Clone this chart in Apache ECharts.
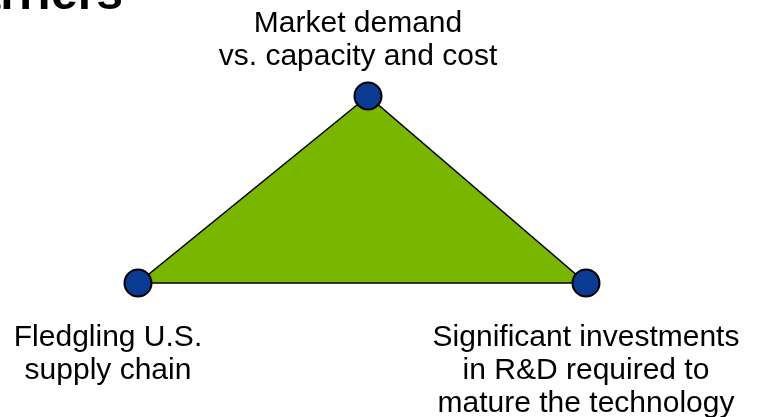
<!DOCTYPE html>
<html>
<head>
<meta charset="utf-8">
<script src="https://cdn.jsdelivr.net/npm/echarts@6/dist/echarts.min.js"></script>
<style>
  html, body { margin: 0; padding: 0; background: #fff; }
  #main { width: 759px; height: 417px; }
</style>
</head>
<body>
<div id="main"></div>
<script>
// barrier triangle: three nodes, positions on a 0..759 x 0..417 plane
var nodeNames = ['Market demand\nvs. capacity and cost', 'Fledgling U.S.\nsupply chain', 'Significant investments\nin R&D required to\nmature the technology'];
var nodeX = [368, 138, 586];
var nodeY = [96, 283, 283];
var titleText = 'Barriers';

var pts = nodeX.map(function (x, i) { return [x, nodeY[i]]; });

var chart = echarts.init(document.getElementById('main'));
var option = {
  animation: false,
  grid: { left: 0, right: 0, top: 0, bottom: 0 },
  xAxis: { type: 'value', min: 0, max: 759, show: false },
  yAxis: { type: 'value', min: 0, max: 417, inverse: true, show: false },
  graphic: [{
    type: 'text',
    x: 123,
    y: 20,
    z: 10,
    style: {
      text: titleText,
      font: 'bold 48px "Liberation Sans", Arial, sans-serif',
      fill: '#000',
      align: 'right',
      verticalAlign: 'bottom'
    }
  }],
  series: [
    {
      // the filled triangle
      type: 'custom',
      data: pts,
      renderItem: function (params, api) {
        if (params.dataIndex !== 0) return;
        var poly = pts.map(function (p) { return api.coord(p); });
        return {
          type: 'polygon',
          shape: { points: poly },
          style: { fill: '#78b600', stroke: '#000', lineWidth: 1.5 }
        };
      },
      z: 1
    },
    {
      type: 'scatter',
      symbol: 'circle',
      symbolSize: 27,
      itemStyle: { color: '#0b3a92', borderColor: '#000', borderWidth: 2, opacity: 1 },
      data: pts.map(function (p, i) {
        var lab;
        if (i === 0) lab = { position: 'top', distance: 8, offset: [-10, 0] };
        else if (i === 1) lab = { position: 'bottom', distance: 24, offset: [-30, 0] };
        else lab = { position: 'bottom', distance: 24, offset: [0, 0] };
        return { value: p, name: nodeNames[i], label: lab };
      }),
      label: {
        show: true,
        formatter: '{b}',
        align: 'center',
        color: '#000',
        fontFamily: '"Liberation Sans", Arial, sans-serif',
        fontSize: 30,
        lineHeight: 33
      },
      z: 3
    }
  ]
};
chart.setOption(option);
</script>
</body>
</html>
